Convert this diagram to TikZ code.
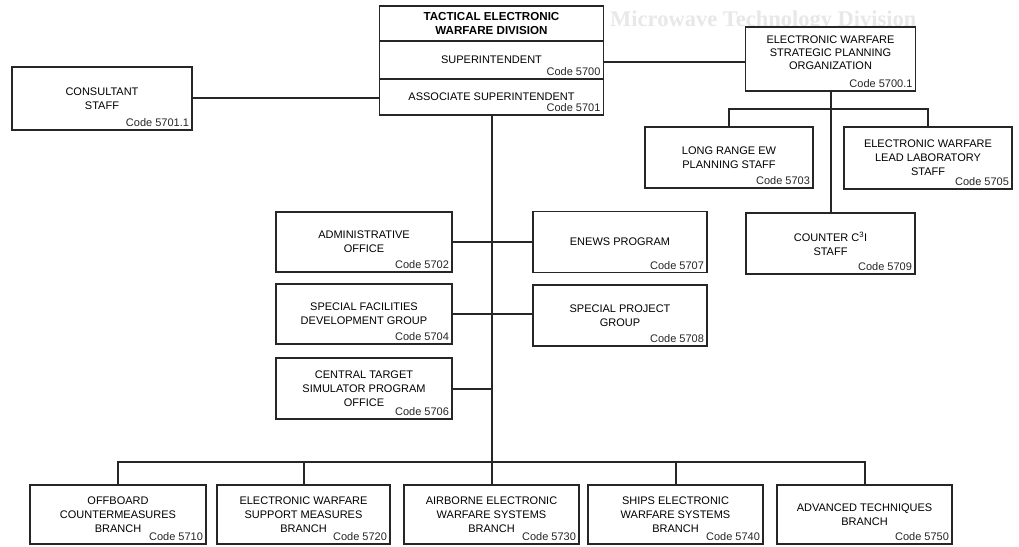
\documentclass[tikz,border=0pt]{standalone}
\usepackage{fontspec}
\setmainfont{Liberation Sans}
\newfontfamily\ghostfont{Liberation Serif}
\begin{document}
\begin{tikzpicture}[x=1pt,y=-1pt,
  box/.style={draw=black!85, line width=1.3pt, fill=white, inner sep=0pt, align=center,
    font=\fontsize{11}{14}\selectfont},
  tightbox/.style={box, font=\fontsize{11}{12.7}\selectfont},
  titlebox/.style={box, font=\fontsize{11.6}{14}\selectfont\bfseries},
  codelbl/.style={anchor=south east, inner sep=0pt, text=black!85,
    font=\fontsize{11}{14}\selectfont, xshift=-3.5pt, yshift=3.5pt},
  conn/.style={draw=black!85, line width=2pt},
  ghost/.style={anchor=west, inner sep=0pt, text=black!9,
    font=\fontsize{22.5}{22.5}\selectfont\ghostfont\bfseries}]
\useasboundingbox (0,0) rectangle (1019,546);
\fill[white] (0,0) rectangle (1019,546);

\node[ghost] (ghosttext) at (610,21) {Microwave Technology Division};

% top division box
\node[titlebox, minimum width=224pt, minimum height=35pt] (title) at (491.5,23.5)
  {TACTICAL ELECTRONIC\\WARFARE DIVISION};
\node[box, minimum width=224pt, minimum height=38pt] (sup) at (491.5,60) {SUPERINTENDENT};
\node[codelbl] (supc) at (sup.south east) {Code 5700};
\node[box, minimum width=224pt, minimum height=36pt] (assoc) at (491.5,97) {ASSOCIATE SUPERINTENDENT};
\node[codelbl] (assocc) at (assoc.south east) {Code 5701};

\node[box, minimum width=180pt, minimum height=63pt] (consult) at (102,98.5) {CONSULTANT\\STAFF};
\node[codelbl] (consultc) at (consult.south east) {Code 5701.1};

\node[tightbox, minimum width=170pt, minimum height=64pt] (ewsp) at (830.5,59)
  {ELECTRONIC WARFARE\\STRATEGIC PLANNING\\ORGANIZATION\\\mbox{}};
\node[codelbl] (ewspc) at (ewsp.south east) {Code 5700.1};

\node[box, minimum width=168pt, minimum height=61pt] (lr) at (729,157.5) {LONG RANGE EW\\PLANNING STAFF};
\node[codelbl] (lrc) at (lr.south east) {Code 5703};
\node[box, minimum width=168pt, minimum height=62pt] (ll) at (928,158)
  {ELECTRONIC WARFARE\\LEAD LABORATORY\\STAFF};
\node[codelbl] (llc) at (ll.south east) {Code 5705};

% middle column
\node[box, minimum width=176pt, minimum height=60pt] (admin) at (364,242) {ADMINISTRATIVE\\OFFICE};
\node[codelbl] (adminc) at (admin.south east) {Code 5702};
\node[box, minimum width=174pt, minimum height=61pt] (enews) at (620,242) {ENEWS PROGRAM};
\node[codelbl] (enewsc) at (enews.south east) {Code 5707};
\node[box, minimum width=169pt, minimum height=61pt] (counter) at (830.5,243.5) {COUNTER C\textsuperscript{3}I\\STAFF};
\node[codelbl] (counterc) at (counter.south east) {Code 5709};

\node[box, minimum width=176pt, minimum height=60pt] (sf) at (364,314)
  {SPECIAL FACILITIES\\DEVELOPMENT GROUP};
\node[codelbl] (sfc) at (sf.south east) {Code 5704};
\node[box, minimum width=174pt, minimum height=61pt] (sp) at (620,315.5) {SPECIAL PROJECT\\GROUP};
\node[codelbl] (spc) at (sp.south east) {Code 5708};

\node[box, minimum width=176pt, minimum height=61pt] (ct) at (364,388.5)
  {CENTRAL TARGET\\SIMULATOR PROGRAM\\OFFICE};
\node[codelbl] (ctc) at (ct.south east) {Code 5706};

% bottom row
\node[box, minimum width=176pt, minimum height=59pt] (b1) at (118,514.5)
  {OFFBOARD\\COUNTERMEASURES\\BRANCH};
\node[codelbl] (b1c) at (b1.south east) {Code 5710};
\node[box, minimum width=173pt, minimum height=59pt] (b2) at (303.5,514.5)
  {ELECTRONIC WARFARE\\SUPPORT MEASURES\\BRANCH};
\node[codelbl] (b2c) at (b2.south east) {Code 5720};
\node[box, minimum width=175pt, minimum height=59pt] (b3) at (491.5,514.5)
  {AIRBORNE ELECTRONIC\\WARFARE SYSTEMS\\BRANCH};
\node[codelbl] (b3c) at (b3.south east) {Code 5730};
\node[box, minimum width=175pt, minimum height=59pt] (b4) at (675.5,514.5)
  {SHIPS ELECTRONIC\\WARFARE SYSTEMS\\BRANCH};
\node[codelbl] (b4c) at (b4.south east) {Code 5740};
\node[box, minimum width=175pt, minimum height=59pt] (b5) at (864.5,514.5)
  {ADVANCED TECHNIQUES\\BRANCH};
\node[codelbl] (b5c) at (b5.south east) {Code 5750};

% connectors
\coordinate (bus) at (491.5,462);
\coordinate (ewbar) at (830.5,109);
\draw[conn] ([yshift=-2pt]sup.east) -- ([yshift=-2pt]sup.east -| ewsp.west);
\draw[conn] ([yshift=-1pt]assoc.west) -- ([yshift=-1pt]assoc.west -| consult.east);
\draw[conn] (assoc.south) -- (b3.north);
\draw[conn] (admin.east) -- (enews.west);
\draw[conn] (sf.east) -- (sf.east -| sp.west);
\draw[conn] (ct.east) -- (ct.east -| assoc.south);
\draw[conn] (b1.north) -- (b1.north |- bus) -- (b5.north |- bus) -- (b5.north);
\draw[conn] (b2.north) -- (b2.north |- bus);
\draw[conn] (b4.north) -- (b4.north |- bus);
\draw[conn] (ewsp.south) -- (counter.north);
\draw[conn] (lr.north) -- (lr.north |- ewbar) -- (ll.north |- ewbar) -- (ll.north);
\end{tikzpicture}
\end{document}
